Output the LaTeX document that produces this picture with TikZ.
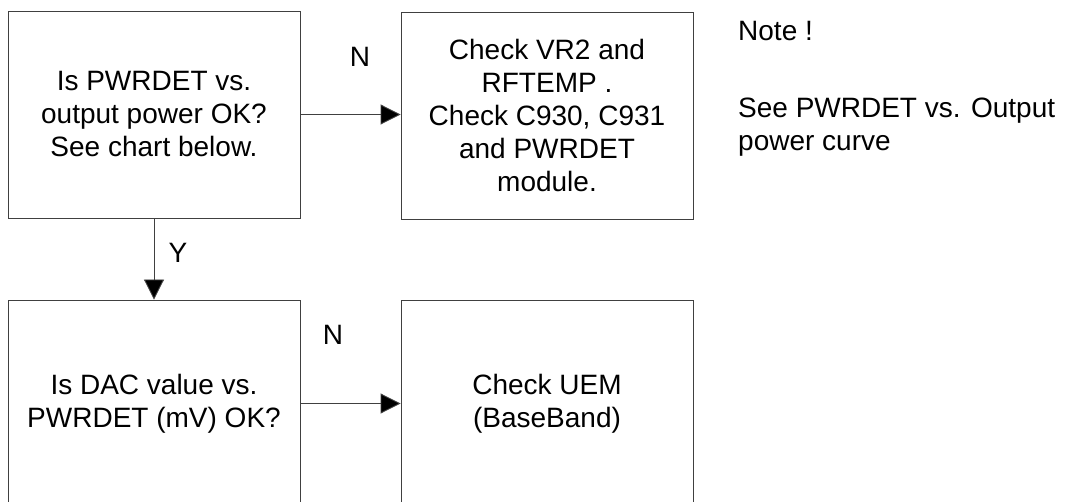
\documentclass[tikz,border=0pt]{standalone}
\usepackage{fontspec}
\setmainfont{Liberation Sans}
\usetikzlibrary{arrows.meta}
\begin{document}
\begin{tikzpicture}[x=1pt,y=-1pt,
  box/.style={draw=black!75, line width=0.9pt, rectangle, inner sep=0pt,
    minimum width=292pt, minimum height=207pt, align=center,
    font=\fontsize{28}{33}\selectfont},
  lbl/.style={inner sep=0pt, font=\fontsize{28}{33}\selectfont},
  conn/.style={draw=black!75, line width=0.9pt, -{Triangle[length=20pt,width=20pt,fill=black]}}]
\useasboundingbox (0,0) rectangle (1065,502);
\clip (0,0) rectangle (1065,502);
\node[box] (b1) at (154,114.5) {Is PWRDET vs.\\output power OK?\\See chart below.};
\node[box] (b2) at (547,115.5) {Check VR2 and\\RFTEMP .\\Check C930, C931\\and PWRDET\\module.};
\node[box] (b3) at (154,403.5) {Is DAC value vs.\\PWRDET (mV) OK?};
\node[box] (b4) at (547,403.5) {Check UEM\\(BaseBand)};
\draw[conn] (b1.east) -- (b1.east -| b2.west);
\draw[conn] (b1.south) -- (b3.north);
\draw[conn] (b3.east) -- (b4.west);
\node[lbl] (n1) at (360,57) {N};
\node[lbl] (y1) at (178,253) {Y};
\node[lbl] (n2) at (333,335) {N};
\node[lbl, anchor=base west] (note1) at (738,41) {Note !};
\node[lbl, anchor=north west, align=left] (note2) at (738,97.5) {See PWRDET vs. Output\\power curve};
\end{tikzpicture}
\end{document}
